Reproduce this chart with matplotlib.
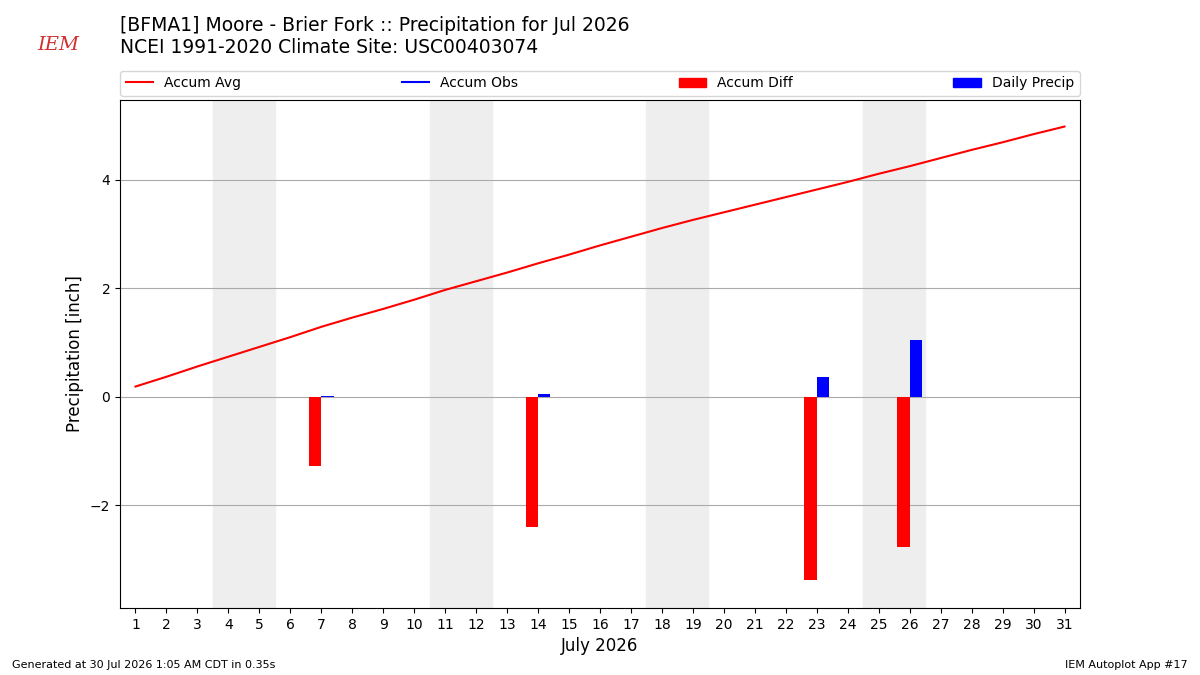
import matplotlib
matplotlib.use("Agg")
import matplotlib.pyplot as plt
from matplotlib.lines import Line2D
from matplotlib.patches import Patch

# daily climatology accumulation (inch)
days = list(range(1, 32))
accum_avg = [0.19, 0.37, 0.56, 0.74, 0.92, 1.10, 1.29, 1.46, 1.62, 1.79,
             1.97, 2.13, 2.29, 2.46, 2.62, 2.79, 2.95, 3.11, 3.26, 3.40,
             3.54, 3.68, 3.82, 3.96, 4.11, 4.25, 4.40, 4.55, 4.69, 4.84, 4.98]

# days with observed precip
precip_days = [7, 14, 23, 26]
daily_precip = [0.01, 0.05, 0.37, 1.04]
accum_diff = [-1.28, -2.40, -3.38, -2.77]

weekend_starts = [4, 11, 18, 25]

fig = plt.figure(figsize=(12, 6.75), dpi=100)
ax = fig.add_axes([0.1, 0.0993, 0.8, 0.7526])

for d in weekend_starts:
    ax.axvspan(d - 0.5, d + 1.5, color="#eeeeee", zorder=0)

ax.plot(days, accum_avg, color="r", lw=1.5, zorder=3)
ax.bar(precip_days, accum_diff, width=-0.4, align="edge", color="r", zorder=2)
ax.bar(precip_days, daily_precip, width=0.4, align="edge", color="b", zorder=2)

ax.set_xlim(0.5, 31.5)
ax.set_ylim(-3.89, 5.47)
ax.set_xticks(days)
ax.set_yticks([-2, 0, 2, 4])
ax.yaxis.grid(True, color="#aaaaaa", lw=0.8)
ax.set_axisbelow(True)
ax.set_ylabel("Precipitation [inch]", fontsize=12)
ax.set_xlabel("July 2026", fontsize=12)

handles = [Line2D([], [], color="r", lw=1.5), Line2D([], [], color="b", lw=1.5),
           Patch(color="r"), Patch(color="b")]
labels = ["Accum Avg", "Accum Obs", "Accum Diff", "Daily Precip"]
ax.legend(handles, labels, ncol=4, mode="expand", loc="lower left",
          bbox_to_anchor=(0, 1.008, 1, 0.05), borderaxespad=0, fontsize=10)

fig.text(0.1, 0.962, "[BFMA1] Moore - Brier Fork :: Precipitation for Jul 2026",
         fontsize=13.5, va="center")
fig.text(0.1, 0.929, "NCEI 1991-2020 Climate Site: USC00403074",
         fontsize=13.5, va="center")
fig.text(0.031, 0.933, "IEM", fontsize=14, color="#d0302f", style="italic",
         family="DejaVu Serif", va="center")

fig.text(0.01, 0.011, "Generated at 30 Jul 2026 1:05 AM CDT in 0.35s", fontsize=8)
fig.text(0.99, 0.011, "IEM Autoplot App #17", fontsize=8, ha="right")

fig.savefig("out.png")
